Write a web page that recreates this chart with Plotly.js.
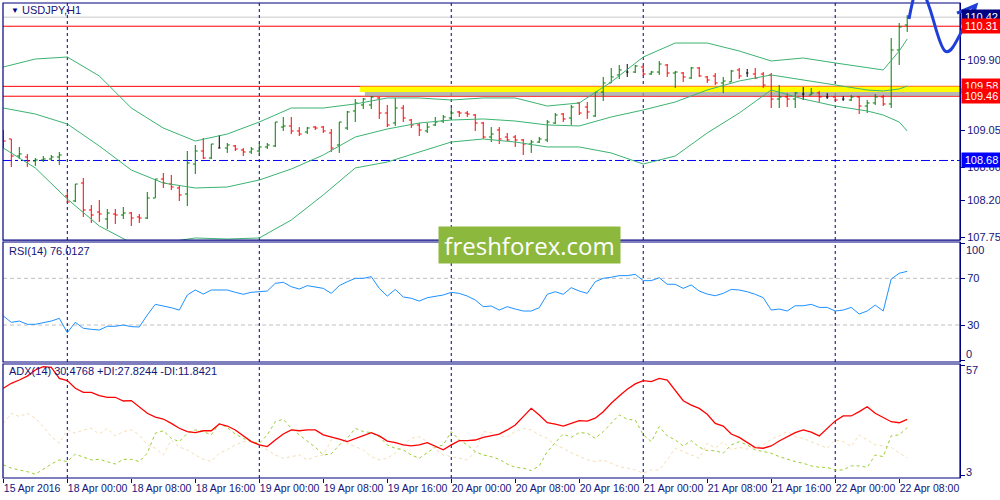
<!DOCTYPE html>
<html>
<head>
<meta charset="utf-8">
<script src="https://cdn.plot.ly/plotly-3.0.1.min.js"></script>
<style>
  html, body { margin: 0; padding: 0; background: #fff; }
  #chart { width: 1000px; height: 500px; }
</style>
</head>
<body>
<div id="chart"></div>
<script>
// USDJPY H1, bars from 15 Apr 16:00 to 22 Apr 09:00 (index = bar number)
const opens = [108.953,108.941,108.734,108.722,108.674,108.686,108.698,108.722,108.249,108.188,
  108.406,108.079,108.054,107.969,108.030,108.018,108.042,107.994,107.981,108.224,
  108.455,108.394,108.346,108.273,108.637,108.795,108.710,108.831,108.831,108.856,
  108.807,108.783,108.795,108.844,108.856,109.086,109.099,109.038,109.026,109.086,
  109.086,109.014,108.868,109.074,109.281,109.354,109.354,109.439,109.256,109.135,
  109.317,109.171,109.111,109.038,109.111,109.159,109.196,109.269,109.256,109.232,
  109.135,108.965,109.050,108.965,108.965,108.929,108.880,108.904,108.929,109.135,
  109.244,109.196,109.378,109.329,109.220,109.511,109.621,109.718,109.754,109.754,
  109.815,109.730,109.754,109.839,109.742,109.742,109.681,109.803,109.694,109.706,
  109.621,109.633,109.779,109.742,109.730,109.730,109.718,109.426,109.451,109.426,
  109.487,109.475,109.499,109.451,109.451,109.426,109.414,109.451,109.341,109.378,
  109.451,109.366,110.021,110.325];
const highs = [109.050,108.941,108.844,108.759,108.710,108.734,108.746,108.783,108.297,108.394,
  108.467,108.139,108.200,108.091,108.091,108.115,108.054,108.030,108.297,108.455,
  108.528,108.504,108.370,108.795,108.868,108.953,108.880,108.989,108.892,108.868,
  108.831,108.844,108.892,108.892,109.147,109.208,109.208,109.086,109.086,109.099,
  109.099,109.062,109.147,109.281,109.426,109.439,109.463,109.451,109.354,109.439,
  109.354,109.184,109.135,109.135,109.208,109.232,109.317,109.281,109.281,109.244,
  109.147,109.086,109.086,109.014,108.989,108.941,108.929,108.965,109.171,109.256,
  109.256,109.354,109.390,109.390,109.511,109.694,109.803,109.839,109.851,109.839,
  109.839,109.766,109.888,109.851,109.766,109.754,109.815,109.815,109.706,109.742,
  109.694,109.779,109.803,109.791,109.803,109.754,109.742,109.596,109.499,109.511,
  109.572,109.560,109.524,109.499,109.451,109.463,109.475,109.463,109.414,109.487,
  109.475,110.167,110.349,110.446];
const lows = [108.831,108.601,108.698,108.601,108.613,108.661,108.674,108.625,108.164,108.176,
  107.994,107.921,107.933,107.848,107.909,107.969,107.884,107.921,107.969,108.224,
  108.346,108.321,108.188,108.127,108.516,108.698,108.698,108.831,108.771,108.795,
  108.734,108.759,108.734,108.819,108.844,109.038,109.001,108.977,109.001,109.050,
  109.014,108.783,108.771,109.050,109.147,109.305,109.305,109.184,109.086,109.099,
  109.147,109.074,108.977,109.014,109.099,109.135,109.184,109.208,109.208,109.038,
  108.941,108.904,108.880,108.916,108.844,108.746,108.771,108.892,108.904,109.123,
  109.147,109.111,109.232,109.184,109.208,109.402,109.621,109.669,109.694,109.742,
  109.706,109.718,109.718,109.694,109.560,109.633,109.669,109.694,109.621,109.596,
  109.499,109.633,109.669,109.694,109.669,109.560,109.317,109.317,109.329,109.317,
  109.414,109.475,109.390,109.426,109.402,109.402,109.402,109.244,109.256,109.354,
  109.341,109.317,109.839,110.240];
const closes = [108.916,108.734,108.759,108.674,108.686,108.698,108.722,108.746,108.176,108.394,
  108.079,108.018,108.030,108.042,108.018,108.042,107.981,107.981,108.224,108.455,
  108.406,108.358,108.261,108.649,108.795,108.710,108.880,108.831,108.868,108.819,
  108.783,108.819,108.844,108.868,109.147,109.099,109.038,109.001,109.074,109.074,
  109.038,108.831,109.147,109.269,109.378,109.426,109.451,109.256,109.111,109.317,
  109.196,109.111,109.050,109.086,109.147,109.208,109.256,109.256,109.244,109.135,
  108.965,109.001,108.941,108.929,108.929,108.880,108.904,108.941,109.147,109.232,
  109.184,109.329,109.256,109.269,109.511,109.621,109.694,109.779,109.754,109.827,
  109.730,109.754,109.851,109.742,109.754,109.694,109.803,109.706,109.657,109.621,
  109.645,109.766,109.706,109.742,109.681,109.596,109.426,109.451,109.426,109.499,
  109.487,109.499,109.451,109.451,109.414,109.426,109.451,109.341,109.378,109.451,
  109.366,110.021,110.301,110.422];

// Bollinger bands read at selected bars
const bbIdx = [0,4,8,12,16,20,24,28,32,36,40,44,48,52,56,60,64,68,72,76,80,84,88,92,96,100,104,108,110,112,113];
const bbUpper = [109.815,109.912,109.936,109.706,109.317,109.074,108.916,109.001,109.147,109.317,
  109.317,109.366,109.439,109.439,109.414,109.439,109.439,109.341,109.378,109.633,
  109.936,110.106,110.106,110.009,109.888,109.924,109.864,109.803,109.779,110.009,110.155];
const bbMiddle = [109.317,109.244,109.123,108.856,108.564,108.406,108.346,108.358,108.443,108.576,
  108.746,108.965,109.062,109.135,109.171,109.184,109.159,109.111,109.099,109.208,
  109.293,109.390,109.536,109.645,109.718,109.657,109.596,109.536,109.524,109.548,109.584];
const bbLower = [108.831,108.589,108.212,107.884,107.680,107.680,107.739,107.726,107.739,107.957,
  108.261,108.589,108.661,108.783,108.904,108.941,108.904,108.844,108.844,108.771,
  108.637,108.734,109.014,109.256,109.536,109.426,109.341,109.281,109.232,109.147,109.038];

const rsi = [37.7,32.3,33.4,30.6,30.6,32.0,33.4,35.7,23.4,32.3,27.2,26.3,25.7,28.9,28.9,30.0,28.6,28.3,38.6,47.7,
  46.3,44.8,42.8,55.7,60.0,56.5,60.0,60.0,60.0,58.0,56.3,58.0,58.5,59.1,65.7,66.6,62.8,60.8,63.7,62.8,
  61.4,57.1,63.7,67.1,70.0,70.0,71.4,61.4,54.8,60.5,54.0,52.9,50.5,53.4,54.6,55.7,58.0,57.1,54.8,51.4,
  45.7,46.3,42.8,45.7,43.7,42.0,42.0,44.8,56.3,58.5,56.3,62.0,59.1,57.1,67.1,70.0,70.9,72.3,72.3,73.4,
  68.0,68.0,70.5,64.9,64.9,61.4,64.3,59.1,56.5,55.1,57.1,60.5,60.0,58.5,56.3,53.4,42.8,43.7,42.0,46.5,
  46.5,47.7,45.1,45.1,42.0,42.8,45.1,39.4,42.0,47.1,42.0,69.4,74.3,76.0];

const adx = [45.7,48.1,49.7,51.6,54.6,56.2,55.9,50.5,49.4,45.7,43.7,43.7,42.1,41.3,41.3,39.5,39.7,36.7,33.5,31.6,
  30.7,28.6,26.2,24.6,24.1,25.0,25.0,28.3,27.3,25.4,22.5,19.7,18.1,17.3,20.5,23.4,25.4,25.0,25.4,25.4,
  23.0,22.1,20.9,19.7,21.3,22.5,24.1,22.5,20.0,19.2,18.1,17.6,18.1,19.2,17.6,15.7,18.1,20.2,20.2,20.5,
  21.8,22.5,23.4,25.4,27.8,31.9,35.9,32.7,28.9,28.2,27.3,28.6,29.9,29.7,31.1,34.3,38.4,41.9,45.2,47.8,
  49.4,48.9,50.5,49.7,44.8,39.6,37.5,35.9,33.0,28.6,27.3,23.4,21.8,19.2,16.8,16.5,17.6,20.0,22.1,24.1,
  25.4,24.3,22.5,26.2,29.8,32.2,32.2,34.3,36.7,33.5,31.6,29.4,28.9,30.5];
const plusDI = [8.4,6.8,5.9,5.1,3.8,6.3,8.8,10.8,10.0,13.6,12.1,10.8,11.1,10.0,8.8,11.1,11.1,10.0,14.1,23.8,
  25.0,21.3,19.7,23.8,25.4,24.6,23.0,28.6,26.5,23.4,21.3,19.7,18.9,23.0,29.4,30.6,26.2,23.0,20.2,17.0,
  13.2,13.7,18.1,21.3,26.2,24.6,24.1,22.1,18.1,16.5,15.7,13.2,11.6,14.3,17.0,18.1,24.6,20.5,18.1,14.8,
  13.2,12.4,11.1,8.8,7.2,6.8,5.6,7.9,14.8,19.2,23.4,21.8,24.1,23.8,21.3,24.6,28.6,32.7,30.6,30.2,
  23.0,19.7,27.0,22.5,20.5,17.6,20.2,17.0,15.3,15.3,14.1,18.1,19.7,18.1,15.7,14.8,14.1,12.4,11.1,10.0,
  9.2,7.9,7.2,7.2,5.9,5.9,7.9,7.9,7.2,13.2,12.4,22.5,23.0,26.5];
const minusDI = [28.6,33.5,31.9,33.5,31.1,27.0,22.1,18.9,25.4,23.8,25.4,26.2,23.4,26.2,22.5,24.6,25.4,23.0,18.1,16.5,
  13.2,20.5,17.0,15.7,13.2,11.1,10.0,14.1,15.7,18.1,19.7,19.7,18.1,15.7,13.2,11.6,12.4,13.2,10.8,12.4,
  13.2,20.5,21.3,18.9,17.3,15.7,12.4,10.8,11.6,14.1,18.1,21.3,22.1,19.7,15.7,13.2,12.4,11.6,10.8,14.8,
  24.6,24.1,22.5,22.1,24.6,26.2,25.4,23.0,21.3,18.1,16.5,14.3,12.4,10.8,10.0,10.8,9.2,7.5,6.8,5.9,
  4.3,5.9,5.9,10.8,16.5,14.8,13.2,11.6,18.9,16.5,19.7,15.7,17.0,16.0,17.0,18.1,20.9,22.5,24.6,22.1,
  21.3,19.7,18.1,16.5,20.5,19.7,17.3,23.0,20.5,18.1,17.6,17.0,14.1,11.8];

const tickIdx = [0,8,16,24,32,40,48,56,64,72,80,88,96,104,112];
const tickText = ['15 Apr 2016','18 Apr 00:00','18 Apr 08:00','18 Apr 16:00','19 Apr 00:00','19 Apr 08:00',
  '19 Apr 16:00','20 Apr 00:00','20 Apr 08:00','20 Apr 16:00','21 Apr 00:00','21 Apr 08:00',
  '21 Apr 16:00','22 Apr 00:00','22 Apr 08:00'];
const dayStarts = [8, 32, 56, 80, 104];

const priceTicks = [109.90, 109.05, 108.60, 108.20, 107.75];
const rsiTicks = [100, 70, 30, 0];
const adxTicks = [57, 3];
const redLevels = [110.31, 109.58, 109.46];
const bidLevel = 110.42;
const supportLevel = 108.68;
const zoneStart = 44.6;
const boxLevels = [110.42, 110.31, 109.58, 109.46, 108.68];
const boxColors = ['#000080', '#ff0000', '#ff0000', '#ff0000', '#0000ff'];

const navy = '#000080';
const txt = '#141478';
const font = 'Liberation Sans Narrow, Liberation Sans, Arial, sans-serif';
const xEnd = 119.6;

// split bars by direction
const groups = { up: [], down: [], flat: [] };
opens.forEach((o, i) => {
  const g = closes[i] > o ? 'up' : (closes[i] < o ? 'down' : 'flat');
  groups[g].push(i);
});
const makeOhlc = (ids, color, tw) => ({
  type: 'ohlc', x: ids,
  open: ids.map(i => opens[i]), high: ids.map(i => highs[i]),
  low: ids.map(i => lows[i]), close: ids.map(i => closes[i]),
  increasing: { line: { color: color, width: 1 } },
  decreasing: { line: { color: color, width: 1 } },
  tickwidth: tw, hoverinfo: 'skip', xaxis: 'x', yaxis: 'y', showlegend: false,
});
const bandLine = (vals) => ({
  type: 'scatter', mode: 'lines', x: bbIdx, y: vals,
  line: { color: '#3cb371', width: 1 }, hoverinfo: 'skip', xaxis: 'x', yaxis: 'y', showlegend: false,
});
const barIdx = opens.map((_, i) => i);

const data = [
  bandLine(bbUpper), bandLine(bbMiddle), bandLine(bbLower),
  makeOhlc(groups.up, '#008000', 0.3),
  makeOhlc(groups.down, '#ff0000', 0.3),
  makeOhlc(groups.flat, '#000000', 0.15),
  { type: 'scatter', mode: 'lines', x: barIdx, y: rsi, line: { color: '#1e90ff', width: 1 },
    hoverinfo: 'skip', xaxis: 'x', yaxis: 'y2', showlegend: false },
  { type: 'scatter', mode: 'lines', x: barIdx, y: minusDI, line: { color: '#f5deb3', width: 1, dash: 'dot' },
    hoverinfo: 'skip', xaxis: 'x', yaxis: 'y3', showlegend: false },
  { type: 'scatter', mode: 'lines', x: barIdx, y: plusDI, line: { color: '#9acd32', width: 1, dash: '3px,3px' },
    hoverinfo: 'skip', xaxis: 'x', yaxis: 'y3', showlegend: false },
  { type: 'scatter', mode: 'lines', x: barIdx, y: adx, line: { color: '#ff0000', width: 1.3 },
    hoverinfo: 'skip', xaxis: 'x', yaxis: 'y3', showlegend: false },
];

const shapes = [];
// support zone
shapes.push({ type: 'rect', xref: 'x', yref: 'y', x0: zoneStart + 0.6, x1: xEnd, y0: 109.462, y1: 109.515,
  fillcolor: '#a0a0a0', opacity: 0.75, line: { width: 0 }, layer: 'below' });
shapes.push({ type: 'rect', xref: 'x', yref: 'y', x0: zoneStart, x1: xEnd, y0: 109.51, y1: 109.578,
  fillcolor: '#ffff00', line: { width: 0 }, layer: 'below' });
redLevels.forEach(v => shapes.push({ type: 'line', xref: 'paper', yref: 'y', x0: 0, x1: 1, y0: v, y1: v,
  line: { color: '#ff0000', width: 1 }, layer: 'below' }));
shapes.push({ type: 'line', xref: 'paper', yref: 'y', x0: 0, x1: 1, y0: bidLevel, y1: bidLevel,
  line: { color: '#c8c8c8', width: 1 }, layer: 'below' });
shapes.push({ type: 'line', xref: 'paper', yref: 'y', x0: 0, x1: 1, y0: supportLevel, y1: supportLevel,
  line: { color: '#0000ff', width: 1, dash: 'dashdot' }, layer: 'below' });
[70, 30].forEach(v => shapes.push({ type: 'line', xref: 'paper', yref: 'y2', x0: 0, x1: 1, y0: v, y1: v,
  line: { color: '#c0c0c0', width: 1, dash: '4px,3px' }, layer: 'below' }));
['y', 'y2', 'y3'].forEach(ax => dayStarts.forEach(d => shapes.push({ type: 'line', xref: 'x', yref: ax + ' domain',
  x0: d, x1: d, y0: 0, y1: 1, line: { color: navy, width: 1, dash: '3px,3px' }, layer: 'below' })));
['y', 'y2', 'y3'].forEach(ax => shapes.push({ type: 'rect', xref: 'paper', yref: ax + ' domain',
  x0: 0, x1: 1, y0: 0, y1: 1, line: { color: navy, width: 1.2 } }));

// hand-drawn blue arrow (pixel points -> paper)
const pp = (px, py) => ((px - 3) / 957).toFixed(4) + ',' + ((478 - py) / 475).toFixed(4);
const arrowPath = 'M' + pp(909, 19) + ' Q' + pp(911, 8) + ' ' + pp(914, -4) +
  ' M' + pp(925, -4) + ' C' + pp(933, 12) + ' ' + pp(938, 45) + ' ' + pp(945, 51) +
  ' C' + pp(952, 56) + ' ' + pp(958, 36) + ' ' + pp(975, 6) +
  ' M' + pp(957, 13) + ' L' + pp(976, 5) + ' L' + pp(971, 23);
shapes.push({ type: 'path', xref: 'paper', yref: 'paper', path: arrowPath,
  line: { color: '#1f3fd8', width: 3 } });

const annotations = [];
boxLevels.forEach((v, k) => annotations.push({
  xref: 'paper', yref: 'y', x: 1, y: v, xanchor: 'left', yanchor: 'middle', xshift: 1,
  text: v.toFixed(2), showarrow: false, bgcolor: boxColors[k], borderpad: 1, width: 37,
  font: { family: font, size: 11, color: '#ffffff' },
}));
// end labels of the indicator scales sit inside the pane, as in the terminal
const edgeLabel = (ax, v, shift) => ({
  xref: 'paper', yref: ax, x: 1, y: v, xanchor: 'left', yanchor: 'middle', xshift: 4, yshift: shift,
  text: String(v), showarrow: false, font: { family: font, size: 11, color: txt },
});
annotations.push(edgeLabel('y2', rsiTicks[0], -7), edgeLabel('y2', rsiTicks[3], 6));
annotations.push(edgeLabel('y3', adxTicks[0], -5), edgeLabel('y3', adxTicks[1], 4));
annotations.push({ xref: 'paper', yref: 'paper', x: 6 / 957, y: (478 - 10) / 475, xanchor: 'left', yanchor: 'middle',
  text: '\u25BC', showarrow: false, font: { family: font, size: 8, color: navy } });
annotations.push({ xref: 'paper', yref: 'paper', x: 17 / 957, y: (478 - 10) / 475, xanchor: 'left', yanchor: 'middle',
  text: 'USDJPY,H1', showarrow: false, font: { family: font, size: 11, color: txt } });
annotations.push({ xref: 'paper', yref: 'paper', x: 4 / 957, y: (478 - 251) / 475, xanchor: 'left', yanchor: 'middle',
  text: 'RSI(14) 76.0127', showarrow: false, font: { family: font, size: 11, color: txt } });
annotations.push({ xref: 'paper', yref: 'paper', x: 4 / 957, y: (478 - 371) / 475, xanchor: 'left', yanchor: 'middle',
  text: 'ADX(14) 30.4768 +DI:27.8244 -DI:11.8421', showarrow: false, font: { family: font, size: 11, color: txt } });
annotations.push({ xref: 'paper', yref: 'paper', x: (529 - 3) / 957, y: (478 - 245) / 475, xanchor: 'center', yanchor: 'middle',
  text: 'freshforex.com', showarrow: false, bgcolor: '#8db83e', width: 179, height: 34,
  font: { family: 'Open Sans, sans-serif', size: 24, color: '#ffffff' } });

const yCommon = {
  side: 'right', showgrid: false, zeroline: false, ticks: 'outside', ticklen: 4, tickcolor: navy,
  showline: true, linecolor: navy, linewidth: 1, tickfont: { family: font, size: 11, color: txt },
  fixedrange: true,
};

const layout = {
  width: 1000, height: 500,
  margin: { l: 3, r: 40, t: 3, b: 22 },
  paper_bgcolor: '#ffffff', plot_bgcolor: '#ffffff',
  showlegend: false, hovermode: false,
  xaxis: {
    anchor: 'y3', range: [-0.04, xEnd], rangeslider: { visible: false },
    tickmode: 'array', tickvals: tickIdx, ticktext: tickText, ticklabelposition: 'outside right',
    tickangle: 0, ticks: 'outside', ticklen: 4, tickcolor: navy, showgrid: false, zeroline: false,
    showline: false, tickfont: { family: font, size: 10.5, color: txt }, fixedrange: true,
  },
  yaxis: Object.assign({}, yCommon, { domain: [0.501, 1], range: [107.714, 110.592],
    tickmode: 'array', tickvals: priceTicks, ticktext: priceTicks.map(v => v.toFixed(2)) }),
  yaxis2: Object.assign({}, yCommon, { domain: [0.2442, 0.4968], range: [-1.7, 101.1],
    tickmode: 'array', tickvals: rsiTicks, ticktext: rsiTicks.map((v, k) => (k === 0 || k === 3) ? '' : String(v)) }),
  yaxis3: Object.assign({}, yCommon, { domain: [0, 0.24], range: [2.0, 57.5],
    tickmode: 'array', tickvals: adxTicks, ticktext: ['', ''] }),
  shapes: shapes,
  annotations: annotations,
};

Plotly.newPlot('chart', data, layout, { staticPlot: true, displayModeBar: false });
</script>
</body>
</html>
